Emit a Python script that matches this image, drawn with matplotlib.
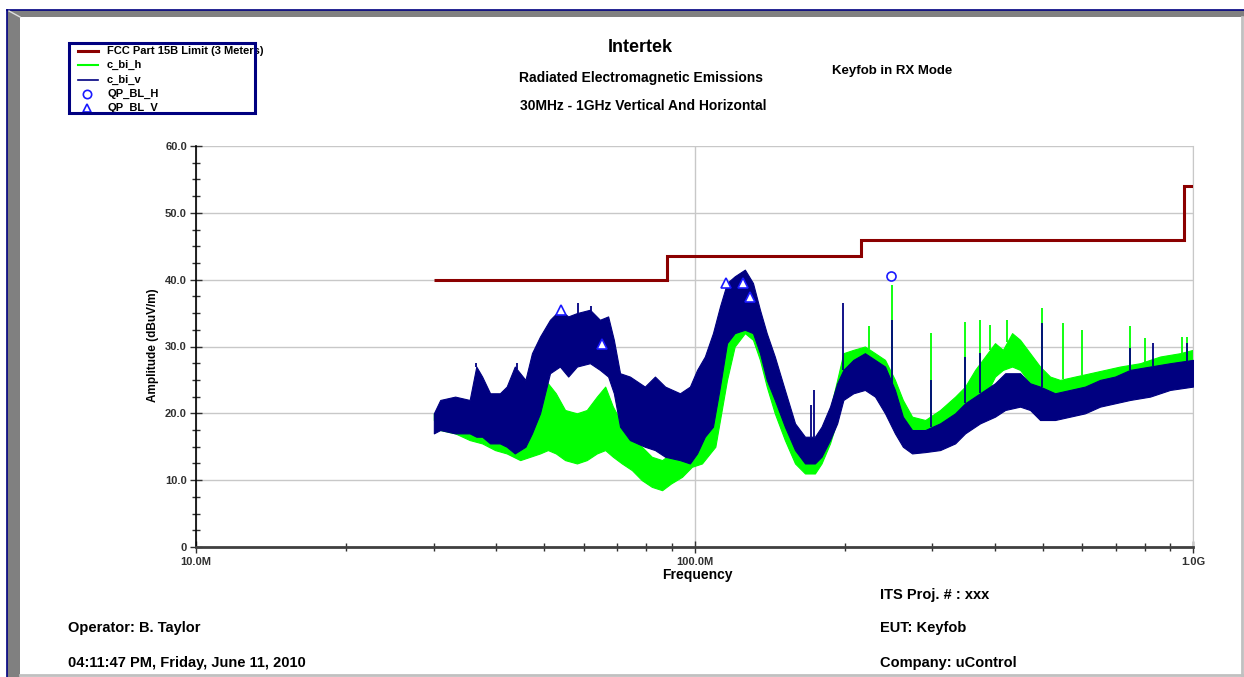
import numpy as np
import matplotlib
matplotlib.use('Agg')
import matplotlib.pyplot as plt
from matplotlib.patches import Rectangle
from matplotlib.lines import Line2D
from matplotlib.ticker import MultipleLocator, NullFormatter, FixedLocator

# Radiated emissions scan, 30 MHz - 1 GHz
limit_edges = [30, 88, 216, 960, 1000]
limit_levels = [40.0, 43.5, 46.0, 54.0]

# c_bi_v (vertical) trace envelope: freq in MHz, low / high in dBuV/m
v_freq = [30, 30.9, 33.1, 35.4, 36.5, 37.5, 38.9, 40.7, 42.0, 43.6, 45.8, 47.2,
          49.0, 51.3, 53.7, 55.8, 58.1, 61.7, 64.6, 67.1, 68.9, 70.9, 74.2, 79.5,
          83.3, 87.3, 93.5, 97.9, 101.2, 104.9, 108.9, 112.5, 116.2, 120.4, 126.2,
          131.0, 135.3, 139.6, 144.9, 151.8, 159.1, 166.6, 174.4, 179.8, 187.0,
          193.3, 198.9, 208.3, 219.7, 230.2, 241.1, 252.4, 261.8, 273.2, 290.3,
          310.9, 333.3, 349.0, 374.0, 400.7, 420.0, 449.9, 471.1, 493.4, 528.7,
          566.7, 607.3, 650.9, 697.6, 747.7, 820.1, 899.5, 1000]
v_low = [17.0, 17.5, 17.0, 17.0, 16.5, 16.5, 15.5, 15.5, 15.0, 14.0, 15.0, 17.0,
         20.0, 26.0, 27.0, 25.5, 27.0, 27.5, 26.5, 25.5, 23.0, 18.0, 16.0, 15.0,
         14.5, 13.5, 13.0, 12.5, 14.0, 16.5, 18.0, 24.0, 30.5, 32.0, 32.5,
         32.0, 29.0, 25.0, 22.0, 18.0, 14.5, 12.5, 12.5, 13.5, 16.0,
         18.5, 22.0, 23.0, 23.5, 22.5, 20.0, 17.0, 15.0, 14.0, 14.2,
         14.5, 15.5, 17.0, 18.5, 19.5, 20.5, 21.0, 20.5, 19.0, 19.0,
         19.5, 20.0, 21.0, 21.5, 22.0, 22.5, 23.5, 24.0]
v_high = [20.0, 22.0, 22.5, 22.0, 27.0, 25.5, 23.0, 23.0, 24.0, 27.0, 25.0, 29.0,
          31.5, 34.0, 35.5, 34.5, 35.0, 35.5, 34.0, 34.5, 31.0, 26.0, 25.5, 24.0,
          25.5, 24.0, 23.0, 24.0, 26.5, 28.5, 32.0, 36.0, 39.5, 40.5, 41.5,
          39.5, 35.5, 32.0, 28.5, 23.5, 18.5, 16.5, 16.5, 18.0, 21.0,
          24.5, 26.5, 28.0, 29.0, 28.0, 27.0, 23.5, 19.5, 17.5, 17.5,
          18.5, 20.0, 21.5, 23.0, 24.5, 26.0, 26.0, 24.5, 24.0, 23.0,
          23.5, 24.0, 25.0, 25.5, 26.5, 27.0, 27.5, 28.0]

# c_bi_h (horizontal) trace envelope
h_freq = [30, 30.9, 33.1, 35.4, 37.5, 39.8, 42.0, 44.7, 46.8, 49.0, 50.8, 52.7,
          55.0, 58.1, 60.8, 63.7, 66.2, 68.6, 71.5, 74.9, 78.4, 82.1, 86.1, 89.7,
          94.4, 98.8, 103.5, 107.4, 110.1, 112.5, 116.2, 120.4, 126.2, 131.0,
          135.3, 139.6, 144.9, 151.8, 159.1, 166.6, 174.4, 179.8, 187.0, 193.3,
          198.9, 208.3, 219.7, 230.2, 241.1, 252.4, 261.8, 273.2, 290.3, 310.9,
          333.3, 349.0, 365.5, 382.7, 400.7, 415.6, 433.6, 449.9, 471.1, 493.4,
          516.7, 541.1, 579.5, 621.6, 666.3, 713.9, 783.1, 858.8, 942, 1000]
h_low = [19.0, 17.5, 17.0, 16.0, 15.5, 14.5, 14.0, 13.0, 13.5, 14.0, 14.5, 14.0,
         13.0, 12.5, 13.0, 14.0, 14.5, 13.5, 12.5, 11.5, 10.0, 9.0, 8.5, 9.5,
         10.5, 12.0, 12.5, 14.0, 15.0, 19.0, 25.0, 30.0, 32.0, 31.0,
         28.0, 24.0, 20.0, 16.0, 12.5, 11.0, 11.0, 12.5, 15.5, 19.0,
         25.0, 26.0, 26.5, 26.0, 24.0, 21.0, 18.5, 16.5, 16.5, 17.0,
         18.5, 19.5, 21.0, 22.5, 25.5, 26.5, 27.0, 26.5, 24.5, 23.0,
         21.5, 22.5, 23.0, 23.5, 24.0, 24.0, 25.0, 25.5, 26.0, 26.5]
h_high = [20.0, 19.5, 19.5, 19.0, 19.5, 18.0, 17.5, 17.5, 19.5, 22.5, 24.5, 23.0,
          20.5, 20.0, 20.5, 22.5, 24.0, 21.0, 18.5, 17.0, 15.0, 13.5, 13.0, 14.0,
          15.0, 17.0, 18.0, 20.0, 22.0, 27.0, 32.0, 34.5, 37.5, 35.0,
          32.5, 29.5, 25.0, 20.0, 16.0, 14.5, 14.5, 16.5, 20.5, 25.0,
          29.0, 29.5, 30.0, 29.0, 28.0, 25.0, 22.0, 19.5, 19.0, 20.5,
          22.5, 24.0, 26.5, 28.5, 30.5, 29.5, 32.0, 31.0, 29.0, 27.0,
          25.5, 25.0, 25.5, 26.0, 26.5, 27.0, 27.5, 28.5, 29.0, 29.5]

# narrow spurs sticking out of the traces
v_spike_freq = [36.5, 44.0, 58.5, 62.0, 171, 174, 199, 249, 298, 349, 374, 498,
                748, 831, 972]
v_spike_amp = [27.5, 27.5, 36.5, 36.0, 21.2, 23.5, 36.5, 34.0, 25.0, 28.5, 29.0,
               33.5, 29.8, 30.5, 30.5]
h_spike_freq = [224, 249, 298, 349, 374, 392, 424, 498, 549, 599, 748, 801, 950, 972]
h_spike_amp = [33.0, 39.2, 32.0, 33.7, 33.9, 33.2, 34.0, 35.8, 33.5, 32.5, 33.0,
               31.3, 31.4, 31.4]

# quasi-peak measurements
qp_h_freq = [248]
qp_h_amp = [40.6]
qp_v_freq = [54, 65.2, 115.7, 125, 129]
qp_v_amp = [35.5, 30.4, 39.5, 39.5, 37.4]

LIMIT_C = '#8b0000'
GREEN = '#00ff00'
NAVY = '#000080'
QP_C = '#1a1aff'

W, H = 1244, 677
plt.rcParams['font.family'] = ['Liberation Sans', 'DejaVu Sans']
plt.rcParams['font.weight'] = 'bold'


def fx(px):
    return px / W


def fy(py):
    return 1 - py / H


fig = plt.figure(figsize=(W / 100, H / 100), dpi=100, facecolor='white')
ax = fig.add_axes([fx(196), fy(547), (1193 - 196) / W, (547 - 146) / H])

# traces
ax.fill_between(h_freq, h_low, h_high, color=GREEN, lw=0.8, zorder=2)
ax.fill_between(v_freq, v_low, v_high, color=NAVY, lw=0.8, zorder=3)
h_base = np.interp(np.log10(h_spike_freq), np.log10(h_freq), h_high)
v_base = np.interp(np.log10(v_spike_freq), np.log10(v_freq), v_high)
ax.vlines(h_spike_freq, h_base, h_spike_amp, color=GREEN, lw=1.3, zorder=2)
ax.vlines(v_spike_freq, v_base, v_spike_amp, color=NAVY, lw=1.3, zorder=3)

ax.stairs(limit_levels, limit_edges, baseline=None, color=LIMIT_C, lw=2.2, zorder=4)

ax.plot(qp_h_freq, qp_h_amp, ls='none', marker='o', ms=6.5, mfc='white',
        mec=QP_C, mew=1.2, zorder=5)
ax.plot(qp_v_freq, qp_v_amp, ls='none', marker='^', ms=6.5, mfc='white',
        mec=QP_C, mew=1.2, zorder=5)

# axes styling
ax.set_xscale('log')
ax.set_xlim(10, 1000)
ax.set_ylim(0, 60)
ax.xaxis.set_major_locator(FixedLocator([10, 100, 1000]))
ax.set_xticklabels(['10.0M', '100.0M', '1.0G'])
ax.xaxis.set_minor_locator(FixedLocator([20, 30, 40, 50, 60, 70, 80, 90,
                                         200, 300, 400, 500, 600, 700, 800, 900]))
ax.xaxis.set_minor_formatter(NullFormatter())
ax.set_yticks([0, 10, 20, 30, 40, 50, 60])
ax.set_yticklabels(['0', '10.0', '20.0', '30.0', '40.0', '50.0', '60.0'])
ax.yaxis.set_minor_locator(MultipleLocator(2.5))

ax.tick_params(axis='both', which='major', direction='inout', length=9,
               width=1, colors='#303030', labelsize=8, pad=2)
ax.tick_params(axis='both', which='minor', direction='inout', length=6,
               width=1, colors='#303030')
ax.tick_params(axis='x', which='major', pad=3)
for lab in ax.get_xticklabels() + ax.get_yticklabels():
    lab.set_fontweight('bold')

ax.grid(True, which='major', color='#c8c8c8', lw=1, zorder=0)
ax.set_axisbelow(True)
ax.spines['top'].set_visible(False)
ax.spines['right'].set_color('#c8c8c8')
ax.spines['left'].set_color('#000000')
ax.spines['left'].set_linewidth(1.2)
ax.spines['bottom'].set_color('#404040')
ax.spines['bottom'].set_linewidth(2)

fig.text(fx(153), fy(345), 'Amplitude (dBuV/m)', rotation=90, ha='center',
         va='center', fontsize=8.5, fontweight='bold')
fig.text(fx(697), fy(575), 'Frequency', ha='center', va='center',
         fontsize=10, fontweight='bold')

# titles
fig.text(fx(640), fy(47), 'Intertek', ha='center', va='center', fontsize=13,
         fontweight='bold')
fig.text(fx(641), fy(78), 'Radiated Electromagnetic Emissions', ha='center',
         va='center', fontsize=10, fontweight='bold')
fig.text(fx(643), fy(106), '30MHz - 1GHz Vertical And Horizontal', ha='center',
         va='center', fontsize=10, fontweight='bold')
fig.text(fx(892), fy(71), 'Keyfob in RX Mode', ha='center', va='center',
         fontsize=9.5, fontweight='bold')

# footer info
footer = [(880, 595, 'ITS Proj. # : xxx'),
          (68, 628, 'Operator: B. Taylor'),
          (880, 628, 'EUT: Keyfob'),
          (68, 663, '04:11:47 PM, Friday, June 11, 2010'),
          (880, 663, 'Company: uControl')]
for px, py, s in footer:
    fig.text(fx(px), fy(py), s, ha='left', va='center', fontsize=10.5,
             fontweight='bold')

# legend drawn by hand (text overflows the box like in the original)
rows = [51, 65, 80, 94, 108]
names = ['FCC Part 15B Limit (3 Meters)', 'c_bi_h', 'c_bi_v', 'QP_BL_H', 'QP_BL_V']
fig.add_artist(Line2D([fx(78), fx(98)], [fy(rows[0])] * 2, color=LIMIT_C, lw=2.2))
fig.add_artist(Line2D([fx(78), fx(98)], [fy(rows[1])] * 2, color=GREEN, lw=1.5))
fig.add_artist(Line2D([fx(78), fx(98)], [fy(rows[2])] * 2, color=NAVY, lw=1.2))
fig.add_artist(Line2D([fx(87)], [fy(rows[3])], ls='none', marker='o', ms=6,
                      mfc='white', mec=QP_C, mew=1.2))
fig.add_artist(Line2D([fx(87)], [fy(rows[4])], ls='none', marker='^', ms=6,
                      mfc='white', mec=QP_C, mew=1.2))
for py, s in zip(rows, names):
    fig.text(fx(107), fy(py), s, ha='left', va='center', fontsize=8,
             fontweight='bold', zorder=3)
fig.add_artist(Rectangle((fx(62), fy(124)), fx(200), fy(114) - fy(124),
                         transform=fig.transFigure, facecolor='white',
                         edgecolor='none', zorder=4))
fig.add_artist(Rectangle((fx(69), fy(113)), fx(255 - 69), fy(43) - fy(113),
                         transform=fig.transFigure, facecolor='none',
                         edgecolor=NAVY, lw=2.2, zorder=5))

# window frame
fig.add_artist(Rectangle((fx(7), fy(17)), fx(W - 7), fy(10) - fy(17),
                         transform=fig.transFigure, facecolor='#808080',
                         edgecolor='none', zorder=6))
fig.add_artist(Rectangle((fx(7), 0), fx(13), fy(10),
                         transform=fig.transFigure, facecolor='#808080',
                         edgecolor='none', zorder=6))
fig.add_artist(Line2D([fx(7), 1], [fy(10), fy(10)], color=NAVY, lw=1.2, zorder=7))
fig.add_artist(Line2D([fx(7), fx(7)], [0, fy(10)], color=NAVY, lw=1.2, zorder=7))
fig.add_artist(Line2D([fx(9), fx(20)], [fy(11), fy(17)], color='#e0e0e0', lw=1,
                      zorder=7))
fig.add_artist(Line2D([fx(1241.5), fx(1241.5)], [0, fy(17)], color='#c0c0c0',
                      lw=2, zorder=7))
fig.add_artist(Line2D([fx(20), 1], [fy(675), fy(675)], color='#c0c0c0',
                      lw=2, zorder=7))

fig.savefig('out.png', dpi=100, facecolor='white')
